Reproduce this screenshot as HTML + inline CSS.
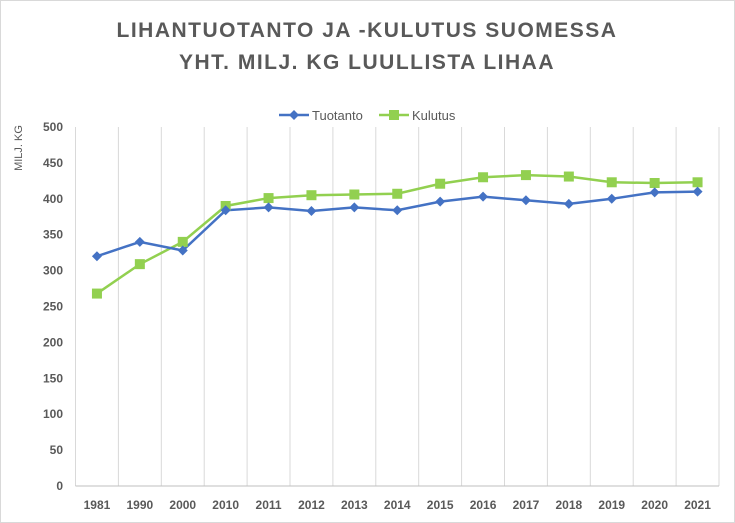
<!DOCTYPE html>
<html><head><meta charset="utf-8"><style>
body{margin:0;background:#fff;}
svg{display:block;font-family:"Liberation Sans",sans-serif;}
</style></head><body>
<svg width="735" height="523" viewBox="0 0 735 523" xmlns="http://www.w3.org/2000/svg">
<rect x="0.5" y="0.5" width="734" height="522" fill="#fff" stroke="#d9d9d9"/>
<text x="367" y="37" text-anchor="middle" font-size="21" font-weight="bold" fill="#595959" letter-spacing="1.5">LIHANTUOTANTO JA -KULUTUS SUOMESSA</text>
<text x="367" y="69" text-anchor="middle" font-size="21" font-weight="bold" fill="#595959" letter-spacing="1.5">YHT. MILJ. KG LUULLISTA LIHAA</text>
<g stroke="#4472c4" stroke-width="2.5"><line x1="279" y1="115" x2="309" y2="115"/></g>
<path d="M294 110 L299 115 L294 120 L289 115Z" fill="#4472c4"/>
<text x="312" y="120" font-size="13" fill="#595959">Tuotanto</text>
<line x1="379" y1="115" x2="409" y2="115" stroke="#92d050" stroke-width="2.5"/>
<rect x="389" y="110" width="10" height="10" fill="#92d050"/>
<text x="412" y="120" font-size="13" fill="#595959">Kulutus</text>
<text transform="translate(22,148) rotate(-90)" text-anchor="middle" font-size="11" fill="#595959">MILJ. KG</text>
<g id="grid" stroke="#d9d9d9" stroke-width="1"></g>
<g id="yl" font-size="12" font-weight="bold" fill="#595959" text-anchor="end"></g>
<g id="xl" font-size="12" font-weight="bold" fill="#595959" text-anchor="middle"></g>
<g id="series"></g>
</svg>
<script>
var ns="http://www.w3.org/2000/svg";
function el(t,a,p,txt){var e=document.createElementNS(ns,t);for(var k in a)e.setAttribute(k,a[k]);if(txt)e.textContent=txt;document.getElementById(p).appendChild(e);return e;}
var x0=75.5,dx=42.9,y0=486,ys=0.718;
for(var k=0;k<=15;k++){var x=x0+dx*k;el('line',{x1:x,y1:127,x2:x,y2:486},'grid');}
el('line',{x1:x0,y1:486,x2:x0+15*dx,y2:486,stroke:'#bfbfbf'},'grid');
for(var v=0;v<=500;v+=50)el('text',{x:63,y:y0-v*ys+4},'yl',String(v));
var yrs=[1981,1990,2000,2010,2011,2012,2013,2014,2015,2016,2017,2018,2019,2020,2021];
yrs.forEach(function(y,i){el('text',{x:x0+dx*(i+0.5),y:509},'xl',String(y));});
var t=[320,340,328,384,388,383,388,384,396,403,398,393,400,409,410];
var c=[268,309,340,390,401,405,406,407,421,430,433,431,423,422,423];
function pts(d){return d.map(function(v,i){return (x0+dx*(i+0.5))+','+(y0-v*ys);}).join(' ');}
el('polyline',{points:pts(c),fill:'none',stroke:'#92d050','stroke-width':2.5},'series');
el('polyline',{points:pts(t),fill:'none',stroke:'#4472c4','stroke-width':2.5},'series');
c.forEach(function(v,i){var x=x0+dx*(i+0.5),y=y0-v*ys;el('rect',{x:x-5,y:y-5,width:10,height:10,fill:'#92d050'},'series');});
t.forEach(function(v,i){var x=x0+dx*(i+0.5),y=y0-v*ys;el('path',{d:'M'+x+' '+(y-5)+'L'+(x+5)+' '+y+'L'+x+' '+(y+5)+'L'+(x-5)+' '+y+'Z',fill:'#4472c4'},'series');});
</script>
</body></html>
